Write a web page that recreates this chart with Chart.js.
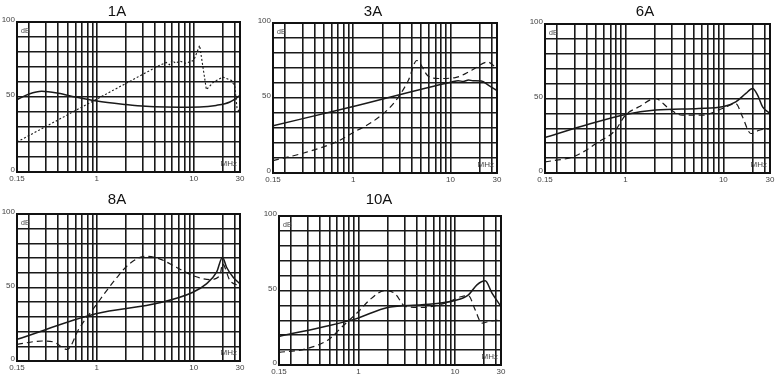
<!DOCTYPE html>
<html><head><meta charset="utf-8">
<script src="https://cdn.jsdelivr.net/npm/chart.js@4.4.1/dist/chart.umd.min.js"></script>
<style>
html,body{margin:0;padding:0;background:#fff;width:783px;height:380px;overflow:hidden;position:relative}
canvas{position:absolute}
</style></head><body>
<script>
// ---- tick / category data ----
const titles = ['1A', '3A', '6A', '8A', '10A'];
const gridFreqs = [0.15,0.2,0.3,0.4,0.5,0.6,0.7,0.8,0.9,1,2,3,4,5,6,7,8,9,10,20,26.5,30];
const freqLabels = [0.15, 1, 10, 30];
const dbLabels = [0, 50, 100];

// ---- series data (frequency in MHz, attenuation in dB) ----
const f1A_solid  = [0.15, 0.2, 0.27, 0.4, 0.6, 1, 2, 3.2, 5.2, 8, 11.5, 17, 23.6, 30];
const db1A_solid = [48.2, 52, 53.8, 52.5, 50, 47.3, 45, 43.8, 43.3, 43.2, 43.3, 44.4, 46.7, 51];
const f1A_dash   = [0.15, 4.4, 5.2, 5.6, 6.0, 6.5, 7.2, 8.2, 10, 11.5, 13.5, 16, 20, 24.6, 26.5, 28, 30];
const db1A_dash  = [20, 71, 73, 71.5, 74.4, 72.5, 74, 72.5, 74.4, 84.4, 54.9, 60, 63.3, 61, 57, 42, 40];

const f3A_solid  = [0.15, 1, 10.3, 12, 13.5, 15.3, 17, 20.7, 24.6, 30];
const db3A_solid = [31.5, 44.3, 60.7, 61.5, 61, 62, 61.5, 61.3, 58.4, 55];
const f3A_dash   = [0.15, 0.317, 0.70, 1, 1.54, 2.3, 2.91, 3.69, 4.5, 5.9, 7.52, 11.2, 16.5, 24, 30];
const db3A_dash  = [8.3, 13.5, 21.3, 27, 33.7, 42.7, 50.6, 61.8, 75, 64.5, 63, 63.6, 68.5, 74, 69.7];

const f6A_solid  = [0.15, 0.357, 1.03, 2.02, 5.6, 9.8, 13.4, 17, 19.9, 22.4, 25.2, 30];
const db6A_solid = [23.8, 31.4, 39.5, 42.2, 43.3, 44.4, 47.8, 53.4, 56.7, 52.2, 44.4, 40];
const f6A_dash   = [0.15, 0.305, 0.53, 0.786, 0.996, 1.37, 2.02, 2.77, 3.79, 6.1, 9.8, 13.4, 15.7, 19.1, 23.3, 30];
const db6A_dash  = [7.4, 11.4, 20.9, 28.7, 38.8, 44.4, 50, 43.3, 38.8, 38.8, 43.3, 46.6, 37.7, 26.5, 28.7, 29.8];

const f8A_solid  = [0.15, 0.975, 4.43, 9.8, 13.5, 17.2, 19.8, 21.8, 25.5, 30];
const db8A_solid = [14.7, 32.1, 39.6, 46.8, 52.5, 60.4, 70.6, 63.8, 57, 52.5];
const f8A_dash   = [0.15, 0.273, 0.36, 0.495, 0.655, 0.975, 1.57, 2.16, 3.2, 4.43, 6.6, 9.8, 14.6, 18.6, 19.8, 23.6, 30];
const db8A_dash  = [11.3, 13.6, 12.9, 7.9, 22, 37.8, 55.9, 66, 71.3, 69.5, 63.8, 58.1, 55.4, 58.1, 66, 54.8, 51];

const f10A_solid  = [0.15, 0.416, 0.92, 2.05, 4.54, 10, 13.8, 16.9, 20.6, 24.2, 30];
const db10A_solid = [19.2, 25.4, 30.8, 38.8, 40.4, 43.3, 47.1, 53.8, 56.5, 48.2, 39.3];
const f10A_dash   = [0.15, 0.279, 0.488, 0.67, 1.0, 1.37, 1.89, 2.4, 3.05, 4.54, 7.9, 11.8, 13.8, 16.2, 19, 22.3, 30];
const db10A_dash  = [8.5, 10.7, 17, 25.4, 35.9, 44.9, 50, 47.8, 39.3, 38.6, 41.5, 46, 46.4, 37, 28.1, 29.2, 30.4];

// ---- layout (plot boxes in page pixels) ----
const boxes = [
  {l:17,  t:22,  r:240, b:172, titleY:12},
  {l:273, t:23,  r:497, b:173, titleY:12},
  {l:545, t:24,  r:770, b:173, titleY:12},
  {l:17,  t:214, r:240, b:361, titleY:199.5},
  {l:279, t:216, r:501, b:365, titleY:199.5}
];
const PADL = 30, PADT = 26, PADR = 12, PADB = 16;
const FONT = "'Liberation Sans', Arial, sans-serif";

function pts(fs, ds) { return fs.map((f, k) => ({x: f, y: ds[k]})); }

function makeChart(i, sf, sd, df, dd, dashStyle) {
  const bx = boxes[i];
  const w = bx.r - bx.l + PADL + PADR, h = bx.b - bx.t + PADT + PADB;
  const cv = document.createElement('canvas');
  cv.width = w; cv.height = h;
  cv.style.left = (bx.l - PADL) + 'px';
  cv.style.top = (bx.t - PADT) + 'px';
  cv.style.width = w + 'px'; cv.style.height = h + 'px';
  document.body.appendChild(cv);
  const canvasTop = bx.t - PADT;

  const deco = {
    id: 'deco',
    afterDraw(chart) {
      const ctx = chart.ctx, a = chart.chartArea;
      ctx.save();
      ctx.strokeStyle = '#111'; ctx.lineWidth = 2;
      ctx.strokeRect(a.left, a.top, a.right - a.left, a.bottom - a.top);
      ctx.fillStyle = '#111';
      ctx.font = '15px ' + FONT;
      ctx.textAlign = 'center'; ctx.textBaseline = 'middle';
      ctx.fillText(titles[i], a.left + 100, bx.titleY - canvasTop);
      ctx.fillStyle = '#444';
      ctx.font = '7px ' + FONT;
      ctx.textAlign = 'left';
      ctx.fillText('dB', a.left + 4, a.top + 9);
      ctx.font = '8px ' + FONT;
      ctx.textAlign = 'right';
      ctx.fillText('MHz', a.right - 3, a.bottom - 8);
      ctx.restore();
    }
  };

  return new Chart(cv, {
    type: 'line',
    data: {
      datasets: [
        {data: pts(sf, sd), borderColor: '#1a1a1a', borderWidth: 1.5, pointRadius: 0,
         cubicInterpolationMode: 'monotone', fill: false},
        {data: pts(df, dd), borderColor: '#1a1a1a', borderWidth: dashStyle.width, pointRadius: 0,
         borderDash: dashStyle.dash, tension: 0, cubicInterpolationMode: dashStyle.mono ? 'monotone' : 'default', fill: false}
      ]
    },
    options: {
      responsive: false, animation: false, events: [],
      layout: {padding: {top: PADT, right: PADR, left: 0, bottom: 0}},
      plugins: {legend: {display: false}, tooltip: {enabled: false}, title: {display: false}},
      scales: {
        x: {
          type: 'logarithmic', min: 0.15, max: 30,
          afterBuildTicks: s => { s.ticks = gridFreqs.map(v => ({value: v})); },
          afterFit: s => { s.height = PADB; },
          grid: {color: '#1a1a1a', lineWidth: 1.6, drawTicks: false},
          border: {display: false},
          ticks: {autoSkip: false, maxRotation: 0, minRotation: 0, padding: 2,
                  font: {family: FONT, size: 8}, color: '#444',
                  callback: v => freqLabels.includes(v) ? String(v) : ''}
        },
        y: {
          type: 'linear', min: 0, max: 100,
          afterFit: s => { s.width = PADL; },
          grid: {color: '#1a1a1a', lineWidth: 1.6, drawTicks: false},
          border: {display: false},
          ticks: {stepSize: 10, padding: 2, labelOffset: -2,
                  font: {family: FONT, size: 8}, color: '#444',
                  callback: v => dbLabels.includes(v) ? String(v) : ''}
        }
      }
    },
    plugins: [deco]
  });
}

const dotted = {dash: [2, 2], width: 1.1, mono: false};
const dashed = {dash: [6, 4], width: 1.2, mono: true};
makeChart(0, f1A_solid, db1A_solid, f1A_dash, db1A_dash, dotted);
makeChart(1, f3A_solid, db3A_solid, f3A_dash, db3A_dash, dashed);
makeChart(2, f6A_solid, db6A_solid, f6A_dash, db6A_dash, dashed);
makeChart(3, f8A_solid, db8A_solid, f8A_dash, db8A_dash, dashed);
makeChart(4, f10A_solid, db10A_solid, f10A_dash, db10A_dash, dashed);
</script>
</body></html>
